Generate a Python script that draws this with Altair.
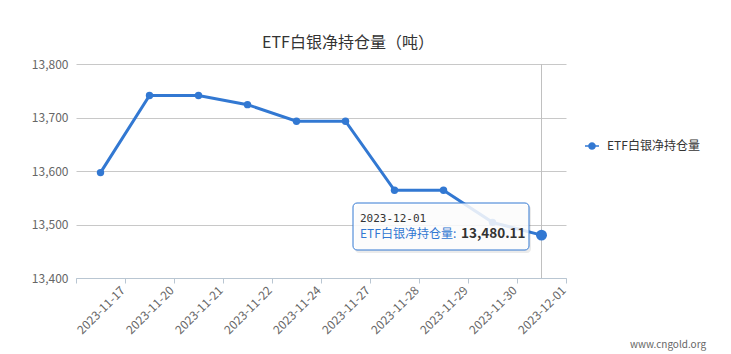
import altair as alt
import pandas as pd

# ---- data ----
dates = ["2023-11-17", "2023-11-20", "2023-11-21", "2023-11-22", "2023-11-24",
         "2023-11-27", "2023-11-28", "2023-11-29", "2023-11-30", "2023-12-01"]
values = [13597, 13741, 13741, 13724, 13693, 13693, 13564, 13564, 13504, 13480.11]
series_name = "ETF白银净持仓量"
chart_title = "ETF白银净持仓量（吨）"
y_ticks = [13400, 13500, 13600, 13700, 13800]
watermark = "www.cngold.org"

df = pd.DataFrame({"date": dates, "value": values, "series": series_name})
last = pd.DataFrame({"date": [dates[-1]], "value": [values[-1]],
                     "series": [series_name],
                     "label": [series_name + ":"],
                     "vtext": [f"{values[-1]:,.2f}"]})
one = pd.DataFrame({"t": [chart_title], "w": [watermark]})

BLUE = "#3278d2"
FONT = "Noto Sans CJK SC"

W, H = 490, 214
PL, PT = 76, 64

xenc = alt.X("date:N", sort=dates, bandPosition=0.5,
             scale=alt.Scale(type="band", domain=dates, paddingInner=0, paddingOuter=0),
             axis=alt.Axis(title=None, tickBand="extent", labelAngle=-45,
                           labelAlign="right", labelBaseline="middle",
                           labelOffset=22, labelPadding=5, labelOverlap=False,
                           labelBound=False, labelColor="#666", labelFontSize=12,
                           labelFont=FONT, domainColor="#b9c6d2", tickColor="#b9c6d2",
                           tickSize=5, grid=False))
yenc = alt.Y("value:Q",
             scale=alt.Scale(domain=[13400, 13800], nice=False, zero=False),
             axis=alt.Axis(title=None, values=y_ticks, format=",.0f", grid=True,
                           gridColor="#c8c8c8", domain=False, ticks=False,
                           labelPadding=8, labelColor="#666", labelFontSize=12,
                           labelFont=FONT))

base = alt.Chart(df)

cross = alt.Chart(last).mark_rule(color="#c0c0c0", strokeWidth=1).encode(
    x=alt.X("date:N", sort=dates, bandPosition=0.5))

line = base.mark_line(color=BLUE, strokeWidth=3).encode(x=xenc, y=yenc)

legend_path = ("M-1,-0.11 L1,-0.11 L1,0.11 L-1,0.11 Z "
               "M0.55,0 A0.55,0.55 0 1,1 -0.55,0 A0.55,0.55 0 1,1 0.55,0 Z")

points = base.mark_point(filled=True, size=55, opacity=1).encode(
    x=alt.X("date:N", sort=dates, bandPosition=0.5),
    y=alt.Y("value:Q"),
    color=alt.Color("series:N", scale=alt.Scale(range=[BLUE]),
                    legend=alt.Legend(orient="none", legendX=509, legendY=75,
                                      title=None, symbolType=legend_path,
                                      symbolSize=196, symbolStrokeWidth=0,
                                      labelOffset=8, labelFontSize=12,
                                      labelColor="#333", labelFont=FONT)),
)

big = alt.Chart(last).mark_point(filled=True, size=120, opacity=1, color=BLUE).encode(
    x=alt.X("date:N", sort=dates, bandPosition=0.5), y=alt.Y("value:Q"))

# tooltip box
shadow = alt.Chart(one).mark_rect(fill="#000", opacity=0.08, cornerRadius=4).encode(
    x=alt.value(279), x2=alt.value(455), y=alt.value(141), y2=alt.value(189))
box = alt.Chart(one).mark_rect(fill="white", fillOpacity=0.85, stroke=BLUE,
                               strokeWidth=1, cornerRadius=4).encode(
    x=alt.value(277), x2=alt.value(453), y=alt.value(139), y2=alt.value(186))
tt_date = alt.Chart(last).mark_text(align="left", baseline="alphabetic", fontSize=11,
                                    font="DejaVu Sans Mono", color="#333").encode(
    x=alt.value(284), y=alt.value(157.5), text="date:N")
tt_name = alt.Chart(last).mark_text(align="left", baseline="alphabetic", fontSize=12,
                                    font=FONT, color=BLUE).encode(
    x=alt.value(284), y=alt.value(173.5), text="label:N")
tt_val = alt.Chart(last).mark_text(align="left", baseline="alphabetic", fontSize=13.5,
                                   font=FONT, fontWeight="bold", color="#333").encode(
    x=alt.value(385), y=alt.value(173.5), text="vtext:N")

title = alt.Chart(one).mark_text(align="center", baseline="middle", fontSize=16,
                                 font=FONT, color="#333").encode(
    x=alt.value(272), y=alt.value(-21), text="t:N")
wm = alt.Chart(one).mark_text(align="center", baseline="middle", fontSize=10,
                              font=FONT, color="#666").encode(
    x=alt.value(592), y=alt.value(281), text="w:N")

chart = alt.layer(cross, line, points, big, shadow, box, tt_date, tt_name, tt_val,
                  title, wm).properties(
    width=W, height=H,
    padding={"left": PL, "top": PT, "right": 731 - PL - W, "bottom": 354 - PT - H},
    autosize=alt.AutoSizeParams(type="none"),
    background="white",
).configure_view(stroke=None)

chart.save("out.html", embed_options={"renderer": "svg", "actions": False})
